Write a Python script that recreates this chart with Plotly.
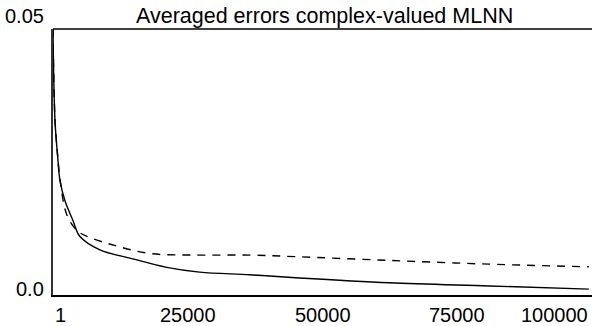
import plotly.graph_objects as go

# Iterations (x) and averaged errors for the two curves
x_solid = [1, 370, 926, 1296, 2222, 3700, 5000, 8700, 14800, 21100, 27200,
           36500, 45700, 62400, 80900, 99400]
y_solid = [0.050, 0.0328, 0.0253, 0.0215, 0.0177, 0.0140, 0.0110, 0.0085,
           0.0068, 0.0052, 0.0043, 0.0038, 0.0032, 0.0023, 0.0017, 0.0011]

x_dashed = [1, 370, 926, 1296, 2600, 4600, 6850, 11850, 18000, 27200,
            36500, 45200, 62400, 80900, 99400]
y_dashed = [0.050, 0.0330, 0.0255, 0.0218, 0.0150, 0.0120, 0.0108, 0.0092,
            0.0078, 0.0075, 0.0075, 0.0072, 0.0065, 0.0058, 0.0053]

x_tick_vals = [1, 25000, 50000, 75000, 100000]
x_tick_text = ["1", "25000", "50000", "75000", "100000"]
y_tick_vals = [0.05, 0.0]
y_tick_text = ["0.05", "0.0"]

title_text = "Averaged errors complex-valued MLNN"

fig = go.Figure()
fig.add_trace(go.Scatter(x=x_dashed, y=y_dashed, mode="lines",
                         line=dict(color="black", width=1.4, dash="8px,7px", shape="spline"),
                         showlegend=False))
fig.add_trace(go.Scatter(x=x_solid, y=y_solid, mode="lines",
                         line=dict(color="black", width=1.4, shape="spline"),
                         showlegend=False))

fam = "Liberation Sans, Arial, sans-serif"
font = dict(family=fam, size=20, color="black")

annotations = []
for v, t in zip(x_tick_vals, x_tick_text):
    if t == "1":
        annotations.append(dict(x=v, y=0, xref="x", yref="y", text=t, showarrow=False,
                                xanchor="center", yanchor="top", xshift=7, yshift=-7, font=font))
    elif v == x_tick_vals[-1]:
        annotations.append(dict(x=v, y=0, xref="x", yref="y", text=t, showarrow=False,
                                xanchor="right", yanchor="top", xshift=-2, yshift=-7, font=font))
    else:
        annotations.append(dict(x=v, y=0, xref="x", yref="y", text=t, showarrow=False,
                                xanchor="center", yanchor="top", yshift=-7, font=font))
for v, t in zip(y_tick_vals, y_tick_text):
    annotations.append(dict(x=0, y=v, xref="x", yref="y", text=t, showarrow=False,
                            xanchor="right", yanchor="middle", xshift=-7,
                            yshift=(13 if v > 0 else 6), font=font))
annotations.append(dict(x=0.5, y=1, xref="paper", yref="paper", text=title_text,
                        showarrow=False, xanchor="center", yanchor="middle",
                        yshift=13, xshift=2, font=dict(family=fam, size=21.5, color="black")))

fig.update_layout(
    width=592, height=326,
    margin=dict(l=53, r=0, t=29, b=31),
    paper_bgcolor="white", plot_bgcolor="white",
    annotations=annotations,
    xaxis=dict(range=[0, 100000], showgrid=False, zeroline=False, showticklabels=False,
               showline=True, linecolor="black", linewidth=2, mirror=False, ticks=""),
    yaxis=dict(range=[0, 0.05], showgrid=False, zeroline=False, showticklabels=False,
               showline=True, linecolor="#333333", linewidth=2, ticks=""),
    shapes=[dict(type="line", xref="paper", yref="paper", x0=0, x1=1, y0=1, y1=1,
                 line=dict(color="black", width=1.5))],
)

fig.write_html("out.html")
